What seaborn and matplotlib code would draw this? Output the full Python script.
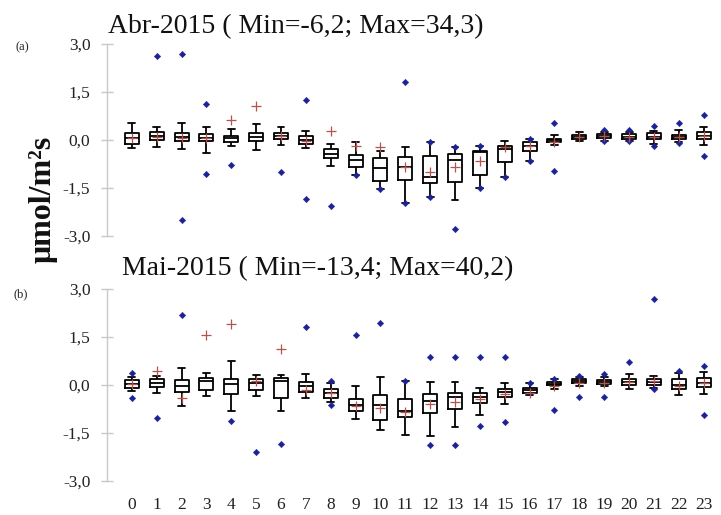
import numpy as np
import pandas as pd
import matplotlib
matplotlib.use("Agg")
import matplotlib.pyplot as plt
import seaborn as sns

# Hours of the day
hours = list(range(24))

# ---- April 2015: five-number summaries per hour (lower whisker, Q1, median, Q3, upper whisker)
abr_lo  = [-0.26, -0.22, -0.29, -0.40, -0.19, -0.31, -0.16, -0.26, -0.80, -1.09, -1.54, -1.96,
           -1.77, -1.88, -1.51, -1.15, -0.65, -0.16, -0.03, -0.02, -0.03, -0.12, -0.06, -0.16]
abr_q1  = [-0.13, 0.00, -0.03, -0.04, -0.05, -0.02, 0.02, -0.14, -0.57, -0.85, -1.28, -1.25,
           -1.35, -1.30, -1.08, -0.68, -0.34, -0.06, 0.04, 0.06, 0.04, 0.02, 0.04, 0.02]
abr_med = [0.05, 0.12, 0.08, 0.07, 0.05, 0.10, 0.12, 0.00, -0.44, -0.62, -0.89, -0.85,
           -1.17, -0.62, -0.36, -0.29, -0.18, 0.00, 0.10, 0.13, 0.10, 0.10, 0.10, 0.12]
abr_q3  = [0.21, 0.26, 0.23, 0.19, 0.14, 0.23, 0.21, 0.11, -0.29, -0.47, -0.55, -0.54,
           -0.49, -0.45, -0.33, -0.19, -0.07, 0.04, 0.17, 0.20, 0.19, 0.21, 0.17, 0.24]
abr_hi  = [0.52, 0.40, 0.54, 0.40, 0.34, 0.51, 0.40, 0.28, -0.12, -0.07, -0.33, -0.21,
           -0.07, -0.23, -0.19, -0.03, 0.03, 0.16, 0.26, 0.26, 0.26, 0.29, 0.30, 0.42]
abr_mean = [0.05, 0.10, 0.05, 0.05, 0.64, 1.05, 0.12, -0.02, 0.28, -0.19, -0.23, -0.85,
            -0.99, -0.85, -0.66, -0.22, -0.20, -0.05, 0.10, 0.12, 0.10, 0.10, 0.10, 0.12]
abr_out_hour = [1, 2, 2, 3, 3, 4, 6, 7, 7, 8, 9, 10, 11, 11, 12, 12, 13, 13, 14, 14,
                15, 16, 16, 17, 17, 19, 19, 20, 20, 21, 21, 22, 22, 23, 23]
abr_out_val  = [2.62, 2.68, -2.50, 1.12, -1.07, -0.78, -1.00, 1.25, -1.84, -2.05, -1.09, -1.54,
                1.82, -1.96, -0.07, -1.77, -0.23, -2.78, -0.19, -1.51, -1.15, 0.03, -0.65,
                0.52, -0.96, 0.30, -0.02, 0.31, -0.03, 0.44, -0.19, 0.52, -0.10, 0.77, -0.51]

# ---- May 2015
mai_lo  = [-0.20, -0.28, -0.67, -0.36, -0.82, -0.36, -0.83, -0.43, -0.55, -1.08, -1.42, -1.58,
           -1.60, -1.34, -0.95, -0.61, -0.33, -0.15, -0.05, -0.05, -0.15, -0.10, -0.33, -0.29]
mai_q1  = [-0.12, -0.09, -0.22, -0.17, -0.30, -0.17, -0.41, -0.22, -0.43, -0.82, -1.11, -1.00,
           -0.88, -0.78, -0.59, -0.40, -0.26, -0.02, 0.04, 0.02, -0.02, -0.03, -0.14, -0.07]
mai_med = [0.02, 0.06, -0.05, 0.11, 0.01, 0.04, 0.12, -0.06, -0.28, -0.64, -0.64, -0.82,
           -0.51, -0.40, -0.40, -0.23, -0.18, 0.03, 0.10, 0.08, 0.09, 0.07, 0.00, 0.06]
mai_q3  = [0.14, 0.16, 0.14, 0.19, 0.16, 0.16, 0.19, 0.09, -0.15, -0.44, -0.34, -0.45,
           -0.30, -0.28, -0.28, -0.15, -0.10, 0.07, 0.16, 0.14, 0.16, 0.16, 0.16, 0.19]
mai_hi  = [0.25, 0.27, 0.53, 0.35, 0.73, 0.30, 0.30, 0.32, 0.05, -0.05, 0.24, 0.12,
           0.09, 0.09, -0.12, 0.04, 0.04, 0.16, 0.25, 0.22, 0.33, 0.27, 0.35, 0.40]
mai_mean = [0.02, 0.43, -0.43, 1.55, 1.88, 0.12, 1.11, -0.17, -0.28, -0.68, -0.74, -0.86,
            -0.60, -0.54, -0.44, -0.30, -0.25, -0.06, 0.04, 0.05, 0.07, 0.10, -0.06, 0.05]
mai_out_hour = [0, 0, 1, 2, 4, 5, 6, 7, 8, 8, 9, 10, 11, 12, 12, 13, 13, 14, 14, 15, 15,
                16, 17, 17, 18, 18, 19, 19, 20, 21, 21, 22, 23, 23]
mai_out_val  = [0.35, -0.43, -1.06, 2.16, -1.13, -2.12, -1.86, 1.80, 0.12, -0.64, 1.55, 1.91,
                0.12, 0.87, -1.89, 0.87, -1.89, 0.87, -1.30, 0.87, -1.16, 0.04, 0.16, -0.80,
                0.27, -0.40, 0.32, -0.38, 0.70, 2.66, -0.14, 0.42, 0.59, -0.95]

titles = ["Abr-2015 ( Min=-6,2; Max=34,3)", "Mai-2015 ( Min=-13,4; Max=40,2)"]
panel_tags = ["(a)", "(b)"]
y_ticks = [-3.0, -1.5, 0.0, 1.5, 3.0]
y_tick_labels = ["-3,0", "-1,5", "0,0", "1,5", "3,0"]
y_label = "\u03bcmol/m\u00b2s"

sns.set_theme(style="white")
plt.rcParams["font.family"] = ["Liberation Serif", "DejaVu Serif"]

W, H = 721, 515
fig = plt.figure(figsize=(W / 100, H / 100), dpi=100)

def frac_box(top_px, bottom_px, left_px=107, right_px=721):
    return [left_px / W, 1 - bottom_px / H, (right_px - left_px) / W, (bottom_px - top_px) / H]

ax_a = fig.add_axes(frac_box(36, 244))
ax_b = fig.add_axes(frac_box(280.5, 488.5))

MEAN_RED = "#b5544e"
DOT_BLUE = "#1c2293"
SPINE_GREY = "#c9c9c9"

panels = [
    (ax_a, abr_lo, abr_q1, abr_med, abr_q3, abr_hi, abr_mean, abr_out_hour, abr_out_val),
    (ax_b, mai_lo, mai_q1, mai_med, mai_q3, mai_hi, mai_mean, mai_out_hour, mai_out_val),
]

for i, (ax, lo, q1, med, q3, hi, mean, oh, ov) in enumerate(panels):
    # Long table: each hour's five summary values reproduce the box quartiles and whisker ends
    df = pd.DataFrame({
        "hour": np.repeat(hours, 5),
        "value": np.column_stack([lo, q1, med, q3, hi]).ravel(),
    })
    sns.boxplot(data=df, x="hour", y="value", order=hours, whis=(0, 100),
                showfliers=False, width=0.56, fill=False, color="black",
                linecolor="black", linewidth=1.3, ax=ax)
    sns.scatterplot(x=oh, y=ov, marker="D", s=11, color=DOT_BLUE,
                    edgecolor=DOT_BLUE, linewidth=0.3, ax=ax, zorder=5)
    sns.scatterplot(x=hours, y=mean, marker="+", s=60, color=MEAN_RED,
                    linewidth=0.9, ax=ax, zorder=6)

    ax.set_xlim(-1.0, 23.7)
    ax.set_ylim(-3.25, 3.25)
    ax.set_xlabel("")
    ax.set_ylabel("")
    ax.set_yticks(y_ticks)
    ax.set_yticklabels(y_tick_labels)
    for s in ("top", "right", "bottom"):
        ax.spines[s].set_visible(False)
    ax.spines["left"].set_color(SPINE_GREY)
    ax.spines["left"].set_linewidth(1.0)
    ax.spines["left"].set_bounds(-3.0, 3.0)
    ax.tick_params(axis="y", direction="inout", length=8, width=1.0, color=SPINE_GREY,
                   labelsize=12.5, labelcolor="#222222", pad=8, left=True)
    ax.tick_params(axis="x", length=0, labelsize=12.5, labelcolor="#222222", pad=6)
    ax.set_facecolor("none")
    ax.grid(False)

ax_a.set_xticklabels([])

# Panel titles and tags
fig.text(108 / W, 1 - 33 / H, titles[0], fontsize=20, ha="left", va="baseline", color="#111111")
fig.text(122 / W, 1 - 275 / H, titles[1], fontsize=20, ha="left", va="baseline", color="#111111")
fig.text(15 / W, 1 - 47 / H, panel_tags[0], fontsize=9, ha="left", va="center", color="#222222")
fig.text(13 / W, 1 - 294 / H, panel_tags[1], fontsize=9, ha="left", va="center", color="#222222")

# Shared y-axis label
fig.text(43 / W, 1 - 199 / H, y_label, fontsize=23, fontweight="bold", rotation=90,
         ha="center", va="center", color="#111111")

fig.savefig("out.png", dpi=100)
